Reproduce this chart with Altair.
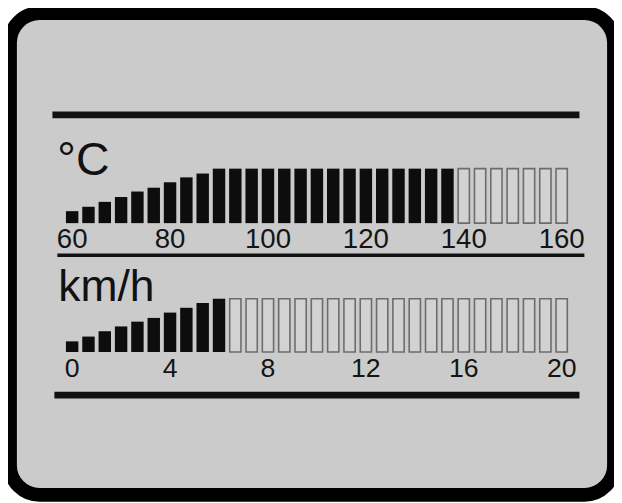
import altair as alt
import pandas as pd

# ---- data ----
temp_ticks = [60, 80, 100, 120, 140, 160]
temp_heights = [0.22, 0.30, 0.39, 0.48, 0.58, 0.65, 0.75, 0.84, 0.91, 1.0,
                1.0, 1.0, 1.0, 1.0, 1.0, 1.0, 1.0, 1.0, 1.0, 1.0,
                1.0, 1.0, 1.0, 1.0, 1.0, 1.0, 1.0, 1.0, 1.0, 1.0, 1.0]
temp_lit = [1, 1, 1, 1, 1, 1, 1, 1, 1, 1,
            1, 1, 1, 1, 1, 1, 1, 1, 1, 1,
            1, 1, 1, 1, 0, 0, 0, 0, 0, 0, 0]

speed_ticks = [0, 4, 8, 12, 16, 20]
speed_heights = [0.20, 0.29, 0.39, 0.48, 0.57, 0.64, 0.74, 0.83, 0.92, 1.0,
                 1.0, 1.0, 1.0, 1.0, 1.0, 1.0, 1.0, 1.0, 1.0, 1.0,
                 1.0, 1.0, 1.0, 1.0, 1.0, 1.0, 1.0, 1.0, 1.0, 1.0, 1.0]
speed_lit = [1, 1, 1, 1, 1, 1, 1, 1, 1, 1,
             0, 0, 0, 0, 0, 0, 0, 0, 0, 0,
             0, 0, 0, 0, 0, 0, 0, 0, 0, 0, 0]

n_seg = 31
temp_seg = [60 + i * (160 - 60) / (n_seg - 1) for i in range(n_seg)]
speed_seg = [0 + i * (20 - 0) / (n_seg - 1) for i in range(n_seg)]

FONT = "Liberation Sans"
INK = "#0d0d0d"
LCD = "#cbcbcb"
HOLLOW_FILL = "#d2d2d2"
HOLLOW_STROKE = "#6c6c6c"


def gauge(seg, heights, lit, ticks, dom, yrange, label_y, label_size):
    df = pd.DataFrame({"v": seg, "h": heights, "lit": lit})
    xs = alt.Scale(domain=dom, range=[63, 559], zero=False, nice=False, padding=0)
    ys = alt.Scale(domain=[0, 1], range=yrange, nice=False, padding=0)
    filled = (
        alt.Chart(df)
        .transform_filter("datum.lit == 1")
        .mark_bar(size=12.6, color=INK)
        .encode(x=alt.X("v:Q", scale=xs, axis=None),
                y=alt.Y("h:Q", scale=ys, axis=None))
    )
    hollow = (
        alt.Chart(df)
        .transform_filter("datum.lit == 0")
        .mark_bar(size=11.4, fill=HOLLOW_FILL, stroke=HOLLOW_STROKE, strokeWidth=1.6)
        .encode(x=alt.X("v:Q", scale=xs, axis=None),
                y=alt.Y("h:Q", scale=ys, axis=None))
    )
    labels = (
        alt.Chart(pd.DataFrame({"t": ticks}))
        .mark_text(font=FONT, fontSize=label_size, color="#141414",
                   align="center", baseline="alphabetic")
        .encode(x=alt.X("t:Q", scale=xs, axis=None),
                y=alt.value(label_y),
                text=alt.Text("t:Q"))
    )
    return alt.layer(filled, hollow, labels)


top = gauge(temp_seg, temp_heights, temp_lit, temp_ticks, [60, 160],
            [212.7, 157.5], 238.3, 28)
bottom = gauge(speed_seg, speed_heights, speed_lit, speed_ticks, [0, 20],
               [343.3, 289.3], 369, 27)

one = pd.DataFrame({"a": [0]})


def rule(x1, x2, y, w):
    return alt.Chart(one).mark_rule(color="#111111", strokeWidth=w).encode(
        x=alt.value(x1), x2=alt.value(x2), y=alt.value(y))


def title(txt, x, y, size):
    return alt.Chart(one).mark_text(
        text=txt, font=FONT, fontSize=size, color="#111111",
        align="left", baseline="alphabetic").encode(
        x=alt.value(x), y=alt.value(y))


deco = [
    rule(43, 577, 103, 7),
    rule(48, 582, 245.3, 3.5),
    rule(45, 577, 387, 7),
    title("°C", 48, 164, 47),
    title("km/h", 49, 291.7, 45),
]

chart = (
    alt.layer(*deco, top, bottom)
    .resolve_scale(x="independent", y="independent")
    .properties(
        width=612, height=488,
        autosize=alt.AutoSizeParams(type="none"),
        padding={"left": 2, "top": 2, "right": 0, "bottom": 5},
        background="white",
    )
    .configure_view(fill=LCD, stroke="#000000", strokeWidth=14, cornerRadius=30)
)

chart.save("out.html", embed_options={"renderer": "svg", "actions": False})
